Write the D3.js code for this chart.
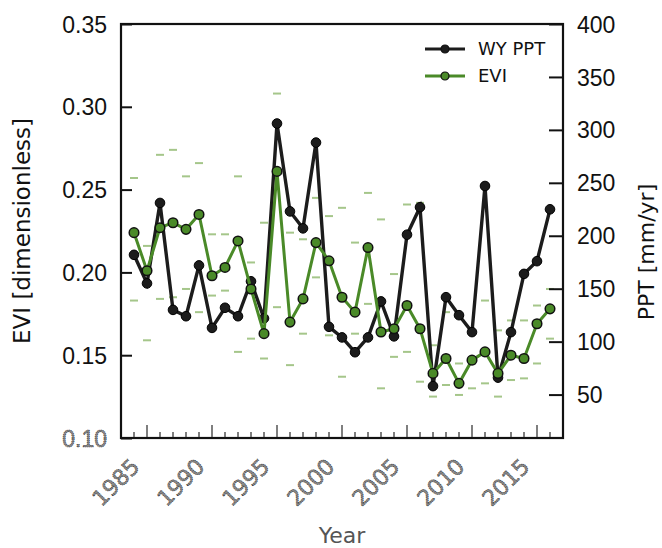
<!DOCTYPE html>
<html>
<head>
<meta charset="utf-8">
<script src="https://cdn.jsdelivr.net/npm/d3@7"></script>
<style>
  body { margin: 0; background: #fff; }
  svg { font-family: "DejaVu Sans", sans-serif; }
</style>
</head>
<body>
<svg width="662" height="548"></svg>
<script>
// data
const years = [1984,1985,1986,1987,1988,1989,1990,1991,1992,1993,1994,1995,1996,1997,1998,1999,
  2000,2001,2002,2003,2004,2005,2006,2007,2008,2009,2010,2011,2012,2013,2014,2015,2016];
const ppt = [182,155,231,130,124,172,113,132,124,157,122,306,223,207,288,114,
  104,90,104,138,105,201,227,58,142,125,109,247,66,109,164,176,225];
const evi = [0.224,0.201,0.227,0.230,0.226,0.235,0.198,0.203,0.219,0.190,0.163,0.261,0.170,0.184,0.218,0.207,
  0.185,0.176,0.215,0.164,0.166,0.180,0.166,0.139,0.148,0.133,0.147,0.152,0.139,0.150,0.148,0.169,0.178];
const eviUpper = [0.257,0.216,0.271,0.274,0.258,0.266,0.223,0.223,0.258,0.206,0.230,0.308,0.224,0.220,0.245,0.234,
  0.239,0.218,0.248,0.232,0.199,0.241,0.242,0.156,0.176,0.145,0.145,0.183,0.165,0.171,0.171,0.180,0.190];
const eviLower = [0.183,0.159,0.184,0.185,0.190,0.176,0.186,0.189,0.152,0.160,0.148,0.179,0.144,0.163,0.197,0.162,
  0.137,0.163,0.181,0.130,0.149,0.152,0.134,0.125,0.132,0.126,0.130,0.133,0.125,0.135,0.136,0.145,0.160];
const eviTicks = [0.10,0.15,0.20,0.25,0.30,0.35];
const pptTicks = [50,100,150,200,250,300,350,400];
const yearTicks = [1985,1990,1995,2000,2005,2010,2015];

const green = "#4a8a28";
const capColor = "#a5c68a";

const svg = d3.select("svg");
const L = 121, R = 563, T = 24, B = 438;

const x = d3.scaleLinear().domain([1983, 2017]).range([L, R]);
const yE = d3.scaleLinear().domain([0.10, 0.35]).range([B, T]);
const yP = d3.scaleLinear().domain([9, 400]).range([B, T]);

const rows = years.map((yr, i) => ({yr, ppt: ppt[i], evi: evi[i], hi: eviUpper[i], lo: eviLower[i]}));

// sketchy grey look of the lower labels in the original
function sketchy(sel) {
  sel.attr("fill", "#8a8a8a")
    .attr("stroke", "#222")
    .attr("stroke-width", 0.6)
    .attr("stroke-dasharray", "1.2 0.8");
}

// error caps
const caps = svg.append("g");
rows.forEach(d => {
  [d.hi, d.lo].forEach(v => {
    caps.append("line")
      .attr("x1", x(d.yr) - 4).attr("x2", x(d.yr) + 4)
      .attr("y1", yE(v)).attr("y2", yE(v))
      .attr("stroke", capColor).attr("stroke-width", 2);
  });
});

// PPT line
svg.append("path")
  .datum(rows)
  .attr("fill", "none")
  .attr("stroke", "#1c1c1c")
  .attr("stroke-width", 3.4)
  .attr("d", d3.line().x(d => x(d.yr)).y(d => yP(d.ppt)));

svg.append("g").selectAll("circle")
  .data(rows)
  .enter()
  .append("circle")
  .attr("cx", d => x(d.yr))
  .attr("cy", d => yP(d.ppt))
  .attr("r", 4.8)
  .attr("fill", "#1c1c1c")
  .attr("stroke", "#000")
  .attr("stroke-width", 1);

// EVI line
svg.append("path")
  .datum(rows)
  .attr("fill", "none")
  .attr("stroke", green)
  .attr("stroke-width", 3)
  .attr("d", d3.line().x(d => x(d.yr)).y(d => yE(d.evi)));

svg.append("g").selectAll("circle")
  .data(rows)
  .enter()
  .append("circle")
  .attr("cx", d => x(d.yr))
  .attr("cy", d => yE(d.evi))
  .attr("r", 4.8)
  .attr("fill", green)
  .attr("stroke", "#111")
  .attr("stroke-width", 1.5);

// frame
svg.append("rect")
  .attr("x", L).attr("y", T)
  .attr("width", R - L).attr("height", B - T)
  .attr("fill", "none")
  .attr("stroke", "#111")
  .attr("stroke-width", 2.2);

// left axis (ticks point inward)
const leftAxis = svg.append("g")
  .attr("transform", `translate(${L},0)`)
  .call(d3.axisRight(yE).tickValues(eviTicks).tickSize(11).tickFormat(d3.format(".2f")));
leftAxis.select(".domain").remove();
leftAxis.selectAll("line").attr("stroke", "#111").attr("stroke-width", 2);
leftAxis.selectAll("text")
  .attr("x", -14)
  .attr("text-anchor", "end")
  .attr("dy", "0.35em")
  .attr("font-size", 23)
  .attr("fill", "#111");
leftAxis.selectAll(".tick").filter(d => d === 0.10).select("text").call(sketchy);

// right axis
const rightAxis = svg.append("g")
  .attr("transform", `translate(${R},0)`)
  .call(d3.axisLeft(yP).tickValues(pptTicks).tickSize(14));
rightAxis.select(".domain").remove();
rightAxis.selectAll("line").attr("stroke", "#111").attr("stroke-width", 2);
rightAxis.selectAll("text")
  .attr("x", 14)
  .attr("text-anchor", "start")
  .attr("dy", "0.35em")
  .attr("font-size", 23)
  .attr("fill", "#111");

// bottom axis: yearly minor ticks, 5-year majors
const bottom = svg.append("g").attr("transform", `translate(0,${B})`);
bottom.selectAll("line.minor")
  .data(years)
  .enter()
  .append("line")
  .attr("class", "minor")
  .attr("x1", d => x(d)).attr("x2", d => x(d))
  .attr("y1", -1).attr("y2", d => yearTicks.includes(d) ? -13 : -6)
  .attr("stroke", "#555")
  .attr("stroke-width", 1.5);

bottom.selectAll("text")
  .data(yearTicks)
  .enter()
  .append("text")
  .attr("transform", d => `translate(${x(d) - 6},30) rotate(-45)`)
  .attr("text-anchor", "end")
  .attr("font-size", 22)
  .call(sketchy)
  .text(d => d);

// axis titles
svg.append("text")
  .attr("x", (L + R) / 2).attr("y", 543)
  .attr("text-anchor", "middle")
  .attr("font-size", 22)
  .attr("fill", "#555")
  .text("Year");

svg.append("text")
  .attr("transform", `translate(30,231) rotate(-90)`)
  .attr("text-anchor", "middle")
  .attr("font-size", 23)
  .attr("fill", "#111")
  .text("EVI [dimensionless]");

svg.append("text")
  .attr("transform", `translate(654,252) rotate(-90)`)
  .attr("text-anchor", "middle")
  .attr("font-size", 22)
  .attr("fill", "#111")
  .text("PPT [mm/yr]");

// legend
const legend = [
  {name: "WY PPT", color: "#1c1c1c"},
  {name: "EVI", color: green}
];
const lg = svg.append("g").selectAll("g")
  .data(legend)
  .enter()
  .append("g")
  .attr("transform", (d, i) => `translate(425,${49 + i * 27})`);
lg.append("line")
  .attr("x1", 0).attr("x2", 40)
  .attr("stroke", d => d.color)
  .attr("stroke-width", 3);
lg.append("circle")
  .attr("cx", 20).attr("r", 4)
  .attr("fill", d => d.color)
  .attr("stroke", "#111")
  .attr("stroke-width", 1.2);
lg.append("text")
  .attr("x", 53).attr("dy", "0.35em")
  .attr("font-size", 18)
  .attr("fill", "#111")
  .text(d => d.name);
</script>
</body>
</html>
